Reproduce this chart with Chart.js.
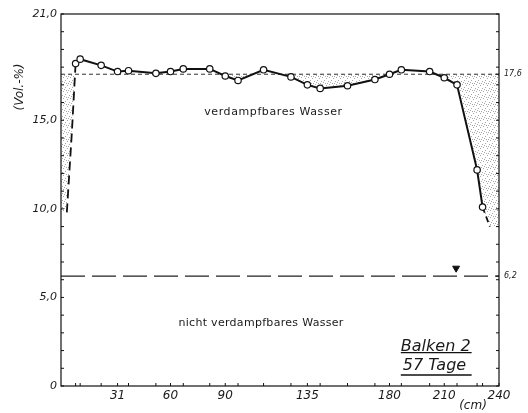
<!DOCTYPE html>
<html>
<head>
<meta charset="utf-8">
<script src="https://cdn.jsdelivr.net/npm/chart.js@4.4.0/dist/chart.umd.min.js"></script>
<style>
  html, body { margin: 0; padding: 0; background: #fff; }
  #wrap { width: 528px; height: 413px; }
</style>
</head>
<body>
<div id="wrap"><canvas id="chart" width="528" height="413"></canvas></div>
<script>
// Messstellen entlang des Balkens (cm) und Wassergehalt (Vol.-%)
const positions = [8, 10.5, 22, 31, 37, 52, 60, 67, 81.5, 90, 97, 111, 126, 135, 142, 157, 172, 180, 186.5, 202, 210, 217, 228, 231];
const waterContent = [18.2, 18.45, 18.1, 17.75, 17.8, 17.65, 17.75, 17.9, 17.9, 17.5, 17.25, 17.85, 17.45, 17.0, 16.8, 16.95, 17.3, 17.6, 17.85, 17.75, 17.4, 17.0, 12.2, 10.1];

// gestrichelte Verlaengerung an den Balkenenden
const leftEndX = [8, 6, 3.2];
const leftEndY = [18.2, 14.4, 9.8];
const rightEndX = [231, 235];
const rightEndY = [10.1, 9.0];

const evaporableLimit = 17.6;
const boundWater = 6.2;
const markerX = [216.5];
const markerY = [6.65];

const xMax = 240;
const yMax = 21;
const xLabelTicks = [31, 60, 90, 135, 180, 210, 240];
const yLabelTicks = [0, 5, 10, 15, 21];
const rightLabelTicks = [17.6, 6.2];

const pts = (xs, ys) => xs.map((x, i) => ({ x: x, y: ys[i] }));
const comma = v => (v === 0 ? '0' : v.toFixed(1).replace('.', ','));
const intTicks = () => Array.from({ length: yMax + 1 }, (_, i) => i);

// Grenzlinie fuer die Punktierung: Kurve samt Enden, bis an die Balkenraender
const boundary = [{ x: 0, y: leftEndY[leftEndY.length - 1] }]
  .concat(pts(leftEndX, leftEndY).reverse())
  .concat(pts(positions, waterContent).slice(1))
  .concat(pts(rightEndX, rightEndY).slice(1))
  .concat([{ x: xMax, y: rightEndY[rightEndY.length - 1] }]);

function stipple() {
  const c = document.createElement('canvas');
  c.width = 7; c.height = 7;
  const g = c.getContext('2d');
  g.fillStyle = '#a8a8a8';
  [[0, 0], [4, 1], [2, 3], [6, 4], [1, 5], [5, 6], [3, 6]].forEach(([a, b]) => g.fillRect(a, b, 1, 1));
  return g.createPattern(c, 'repeat');
}

const framePlugin = {
  id: 'frame',
  afterDatasetsDraw(chart) {
    const { ctx, chartArea: a, scales } = chart;
    const x = scales.x, y = scales.y, y2 = scales.y2;
    ctx.save();
    ctx.strokeStyle = '#111';
    ctx.lineWidth = 1.2;
    ctx.strokeRect(a.left, a.top, a.right - a.left, a.bottom - a.top);

    // Striche nach innen
    ctx.lineWidth = 1;
    ctx.beginPath();
    x.ticks.forEach(t => { const p = x.getPixelForValue(t.value); ctx.moveTo(p, a.bottom); ctx.lineTo(p, a.bottom - 3); });
    y.ticks.forEach(t => { const p = y.getPixelForValue(t.value); ctx.moveTo(a.left, p); ctx.lineTo(a.left + 3, p); });
    y2.ticks.forEach(t => { const p = y2.getPixelForValue(t.value); ctx.moveTo(a.right, p); ctx.lineTo(a.right - 3, p); });
    ctx.stroke();

    ctx.fillStyle = '#1a1a1a';
    ctx.textBaseline = 'middle';
    ctx.textAlign = 'center';
    ctx.font = '11px "DejaVu Sans"';
    ctx.letterSpacing = '0.6px';
    ctx.fillText('verdampfbares Wasser', x.getPixelForValue(116.4), y.getPixelForValue(15.47));
    ctx.letterSpacing = '0.3px';
    ctx.fillText('nicht verdampfbares Wasser', x.getPixelForValue(109.6), y.getPixelForValue(3.55));
    ctx.letterSpacing = '0px';

    // Beschriftung Balken
    ctx.textAlign = 'left';
    ctx.textBaseline = 'alphabetic';
    ctx.font = 'italic 16px "DejaVu Sans"';
    const bx = x.getPixelForValue(186.2);
    ctx.fillText('Balken 2', bx, y.getPixelForValue(1.98));
    ctx.fillText('57 Tage', bx + 2, y.getPixelForValue(0.9));
    ctx.lineWidth = 1.3;
    ctx.beginPath();
    const ex = x.getPixelForValue(225);
    [1.88, 0.62].forEach(v => { const p = y.getPixelForValue(v); ctx.moveTo(bx, p); ctx.lineTo(ex, p); });
    ctx.stroke();

    // Achsentitel
    ctx.font = 'italic 12px "DejaVu Sans"';
    ctx.textAlign = 'center';
    ctx.textBaseline = 'middle';
    ctx.fillText('(cm)', 473, 406);
    ctx.translate(20, 87);
    ctx.rotate(-Math.PI / 2);
    ctx.fillText('(Vol.-%)', 0, 0);
    ctx.restore();
  }
};

new Chart(document.getElementById('chart'), {
  type: 'line',
  data: {
    datasets: [
      {
        label: 'Wassergehalt',
        data: pts(positions, waterContent),
        borderColor: '#111',
        borderWidth: 2,
        pointRadius: 3.2,
        pointBorderWidth: 1.2,
        pointBackgroundColor: '#fff',
        pointBorderColor: '#111',
        tension: 0,
        order: 0
      },
      {
        label: 'links',
        data: pts(leftEndX, leftEndY),
        borderColor: '#111',
        borderWidth: 1.8,
        borderDash: [9, 5],
        pointRadius: 0,
        order: 1
      },
      {
        label: 'rechts',
        data: pts(rightEndX, rightEndY),
        borderColor: '#111',
        borderWidth: 1.8,
        borderDash: [6, 4],
        pointRadius: 0,
        order: 1
      },
      {
        label: '17,6',
        data: [{ x: 0, y: evaporableLimit }, { x: xMax, y: evaporableLimit }],
        borderColor: '#333',
        borderWidth: 1,
        borderDash: [4, 3],
        pointRadius: 0,
        fill: { target: 4, above: stipple(), below: 'rgba(0,0,0,0)' },
        order: 3
      },
      {
        label: 'Grenze',
        data: boundary,
        borderColor: 'rgba(0,0,0,0)',
        borderWidth: 0,
        pointRadius: 0,
        order: 4
      },
      {
        label: '6,2',
        data: [{ x: 0, y: boundWater }, { x: xMax, y: boundWater }],
        borderColor: '#222',
        borderWidth: 1.4,
        borderDash: [24, 7],
        pointRadius: 0,
        order: 2
      },
      {
        label: 'Wasserspiegel',
        data: pts(markerX, markerY),
        showLine: false,
        pointStyle: 'triangle',
        rotation: 180,
        pointRadius: 4,
        pointBackgroundColor: '#111',
        pointBorderColor: '#111',
        order: 0
      }
    ]
  },
  options: {
    responsive: false,
    animation: false,
    events: [],
    layout: { padding: { top: 14, left: 0, right: 0, bottom: 0 } },
    plugins: { legend: { display: false }, tooltip: { enabled: false } },
    scales: {
      x: {
        type: 'linear',
        min: 0,
        max: xMax,
        grid: { display: false, drawTicks: false },
        border: { display: false },
        afterBuildTicks: s => { s.ticks = positions.concat([xMax]).map(v => ({ value: v })); },
        afterFit: s => { s.height = 27; },
        ticks: {
          autoSkip: false,
          maxRotation: 0,
          padding: 3,
          color: '#1a1a1a',
          font: { family: 'DejaVu Sans', style: 'italic', size: 12 },
          callback: v => (xLabelTicks.includes(v) ? String(v) : '')
        }
      },
      y: {
        position: 'left',
        min: 0,
        max: yMax,
        grid: { display: false, drawTicks: false },
        border: { display: false },
        afterBuildTicks: s => { s.ticks = intTicks().map(v => ({ value: v })); },
        afterFit: s => { s.width = 61; },
        ticks: {
          autoSkip: false,
          padding: 4,
          color: '#1a1a1a',
          font: { family: 'DejaVu Sans', style: 'italic', size: 11 },
          callback: v => (yLabelTicks.includes(v) ? comma(v) : '')
        }
      },
      y2: {
        position: 'right',
        min: 0,
        max: yMax,
        grid: { display: false, drawTicks: false },
        border: { display: false },
        afterBuildTicks: s => { s.ticks = intTicks().concat(rightLabelTicks).map(v => ({ value: v })); },
        afterFit: s => { s.width = 29; },
        ticks: {
          autoSkip: false,
          padding: 5,
          color: '#1a1a1a',
          font: { family: 'DejaVu Sans', style: 'italic', size: 8 },
          callback: v => (rightLabelTicks.includes(v) ? comma(v) : '')
        }
      }
    }
  },
  plugins: [framePlugin]
});
</script>
</body>
</html>
